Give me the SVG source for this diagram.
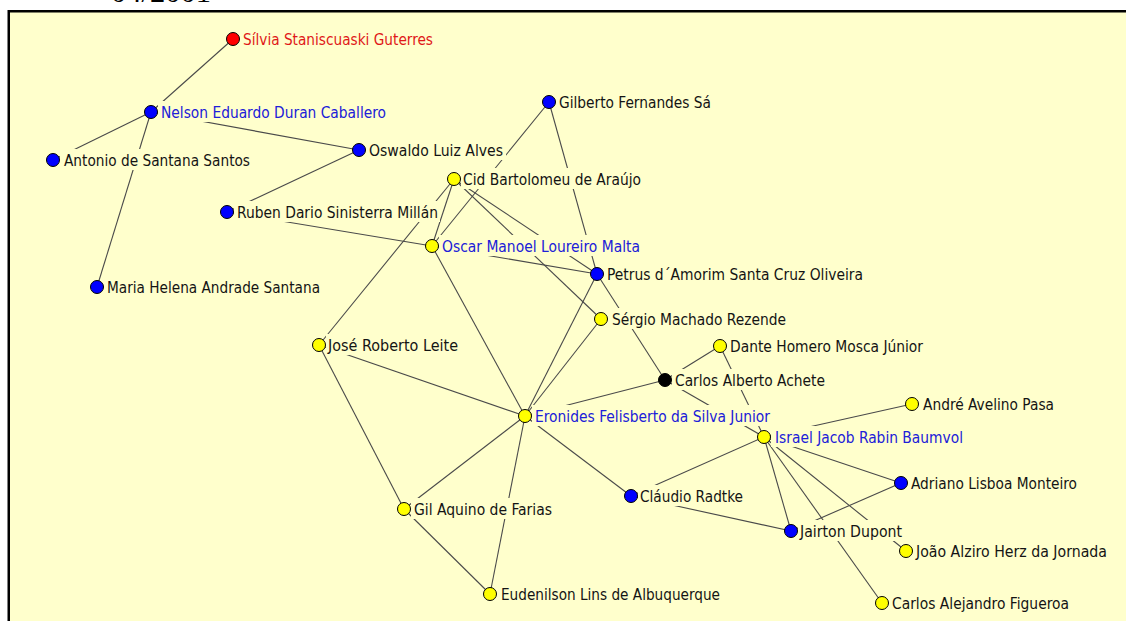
<svg xmlns="http://www.w3.org/2000/svg" width="1126" height="621" viewBox="0 0 1126 621">
<style>
.e{stroke:#4a4a4a;stroke-width:1.1;fill:none}
.bx{fill:#FFFFCC;stroke:none}
.n{stroke:#000;stroke-width:1}
.b{fill:#0000FF}.y{fill:#FFFF00}.r{fill:#FF0000}.k{fill:#000}
.t{font-family:"DejaVu Sans Condensed","DejaVu Sans",sans-serif;font-size:15px;fill:#141414}
.tb{fill:#2020D8}.tr{fill:#E01818}
</style>
<rect x="0" y="0" width="1126" height="621" fill="#fff"/>
<text x="111" y="1.5" font-family="'Liberation Serif',serif" font-size="29" fill="#000" textLength="100" lengthAdjust="spacingAndGlyphs">04/2001</text>
<rect x="8.75" y="11.25" width="1200" height="700" fill="#FFFFCC" stroke="#000" stroke-width="2.5"/>
<g id="connectors">
<line class="e" x1="233" y1="39" x2="151" y2="112"/>
<line class="e" x1="151" y1="112" x2="53" y2="160"/>
<line class="e" x1="151" y1="112" x2="97" y2="287"/>
<line class="e" x1="151" y1="112" x2="359" y2="150"/>
<line class="e" x1="359" y1="150" x2="227" y2="212"/>
<line class="e" x1="227" y1="212" x2="432" y2="246"/>
<line class="e" x1="549" y1="102" x2="432" y2="246"/>
<line class="e" x1="549" y1="102" x2="597" y2="274"/>
<line class="e" x1="454" y1="179" x2="432" y2="246"/>
<line class="e" x1="454" y1="179" x2="319" y2="345"/>
<line class="e" x1="454" y1="179" x2="597" y2="274"/>
<line class="e" x1="454" y1="179" x2="601" y2="319"/>
<line class="e" x1="432" y1="246" x2="597" y2="274"/>
<line class="e" x1="432" y1="246" x2="525" y2="416"/>
<line class="e" x1="597" y1="274" x2="525" y2="416"/>
<line class="e" x1="601" y1="319" x2="525" y2="416"/>
<line class="e" x1="597" y1="274" x2="665" y2="380"/>
<line class="e" x1="665" y1="380" x2="720" y2="346"/>
<line class="e" x1="665" y1="380" x2="525" y2="416"/>
<line class="e" x1="665" y1="380" x2="764" y2="437"/>
<line class="e" x1="720" y1="346" x2="764" y2="437"/>
<line class="e" x1="764" y1="437" x2="912" y2="404"/>
<line class="e" x1="764" y1="437" x2="901" y2="483"/>
<line class="e" x1="764" y1="437" x2="631" y2="496"/>
<line class="e" x1="764" y1="437" x2="791" y2="531"/>
<line class="e" x1="764" y1="437" x2="882" y2="603"/>
<line class="e" x1="764" y1="437" x2="906" y2="551"/>
<line class="e" x1="901" y1="483" x2="791" y2="531"/>
<line class="e" x1="631" y1="496" x2="791" y2="531"/>
<line class="e" x1="525" y1="416" x2="631" y2="496"/>
<line class="e" x1="525" y1="416" x2="319" y2="345"/>
<line class="e" x1="525" y1="416" x2="404" y2="509"/>
<line class="e" x1="525" y1="416" x2="490" y2="594"/>
<line class="e" x1="319" y1="345" x2="404" y2="509"/>
<line class="e" x1="404" y1="509" x2="490" y2="594"/>
</g>
<g id="silvia"><rect class="bx" x="240" y="28" width="196" height="21"/><circle class="n r" cx="233" cy="39" r="6.5"/><text class="t tr" x="243" y="45" textLength="190" lengthAdjust="spacingAndGlyphs">Sílvia Staniscuaski Guterres</text></g>
<g id="nelson"><rect class="bx" x="158" y="101" width="230" height="21"/><circle class="n b" cx="151" cy="112" r="6.5"/><text class="t tb" x="161" y="117.5" textLength="225" lengthAdjust="spacingAndGlyphs">Nelson Eduardo Duran Caballero</text></g>
<g id="antonio"><rect class="bx" x="60" y="149" width="192" height="21"/><circle class="n b" cx="53" cy="160" r="6.5"/><text class="t" x="64" y="165.5" textLength="186" lengthAdjust="spacingAndGlyphs">Antonio de Santana Santos</text></g>
<g id="oswaldo"><rect class="bx" x="366" y="139" width="140" height="21"/><circle class="n b" cx="359" cy="150" r="6.5"/><text class="t" x="369" y="155.5" textLength="134" lengthAdjust="spacingAndGlyphs">Oswaldo Luiz Alves</text></g>
<g id="ruben"><rect class="bx" x="234" y="201" width="206" height="21"/><circle class="n b" cx="227" cy="212" r="6.5"/><text class="t" x="237" y="217.5" textLength="201" lengthAdjust="spacingAndGlyphs">Ruben Dario Sinisterra Millán</text></g>
<g id="maria"><rect class="bx" x="104" y="276" width="218" height="21"/><circle class="n b" cx="97" cy="287" r="6.5"/><text class="t" x="107" y="292.5" textLength="213" lengthAdjust="spacingAndGlyphs">Maria Helena Andrade Santana</text></g>
<g id="gilberto"><rect class="bx" x="556" y="91" width="158" height="21"/><circle class="n b" cx="549" cy="102" r="6.5"/><text class="t" x="559" y="107.5" textLength="152" lengthAdjust="spacingAndGlyphs">Gilberto Fernandes Sá</text></g>
<g id="cid"><rect class="bx" x="461" y="168" width="183" height="21"/><circle class="n y" cx="454" cy="179" r="6.5"/><text class="t" x="463" y="184.5" textLength="178" lengthAdjust="spacingAndGlyphs">Cid Bartolomeu de Araújo</text></g>
<g id="oscar"><rect class="bx" x="439" y="235" width="204" height="21"/><circle class="n y" cx="432" cy="246" r="6.5"/><text class="t tb" x="442" y="251.5" textLength="198" lengthAdjust="spacingAndGlyphs">Oscar Manoel Loureiro Malta</text></g>
<g id="petrus"><rect class="bx" x="604" y="263" width="262" height="21"/><circle class="n b" cx="597" cy="274" r="6.5"/><text class="t" x="607" y="279.5" textLength="256" lengthAdjust="spacingAndGlyphs">Petrus d´Amorim Santa Cruz Oliveira</text></g>
<g id="sergio"><rect class="bx" x="608" y="308" width="181" height="21"/><circle class="n y" cx="601" cy="319" r="6.5"/><text class="t" x="612" y="324.5" textLength="174" lengthAdjust="spacingAndGlyphs">Sérgio Machado Rezende</text></g>
<g id="jose"><rect class="bx" x="326" y="334" width="135" height="21"/><circle class="n y" cx="319" cy="345" r="6.5"/><text class="t" x="328" y="350.5" textLength="130" lengthAdjust="spacingAndGlyphs">José Roberto Leite</text></g>
<g id="dante"><rect class="bx" x="727" y="335" width="199" height="21"/><circle class="n y" cx="720" cy="346" r="6.5"/><text class="t" x="730" y="351.5" textLength="193" lengthAdjust="spacingAndGlyphs">Dante Homero Mosca Júnior</text></g>
<g id="achete"><rect class="bx" x="672" y="369" width="156" height="21"/><circle class="n k" cx="665" cy="380" r="6.5"/><text class="t" x="675" y="385.5" textLength="150" lengthAdjust="spacingAndGlyphs">Carlos Alberto Achete</text></g>
<g id="andre"><rect class="bx" x="919" y="393" width="138" height="21"/><circle class="n y" cx="912" cy="404" r="6.5"/><text class="t" x="923" y="409.5" textLength="131" lengthAdjust="spacingAndGlyphs">André Avelino Pasa</text></g>
<g id="eronides"><rect class="bx" x="532" y="405" width="241" height="21"/><circle class="n y" cx="525" cy="416" r="6.5"/><text class="t tb" x="535" y="421.5" textLength="235" lengthAdjust="spacingAndGlyphs">Eronides Felisberto da Silva Junior</text></g>
<g id="israel"><rect class="bx" x="771" y="426" width="194" height="21"/><circle class="n y" cx="764" cy="437" r="6.5"/><text class="t tb" x="775" y="442.5" textLength="188" lengthAdjust="spacingAndGlyphs">Israel Jacob Rabin Baumvol</text></g>
<g id="adriano"><rect class="bx" x="908" y="472" width="172" height="21"/><circle class="n b" cx="901" cy="483" r="6.5"/><text class="t" x="911" y="488.5" textLength="166" lengthAdjust="spacingAndGlyphs">Adriano Lisboa Monteiro</text></g>
<g id="claudio"><rect class="bx" x="638" y="485" width="108" height="21"/><circle class="n b" cx="631" cy="496" r="6.5"/><text class="t" x="640" y="501.5" textLength="103" lengthAdjust="spacingAndGlyphs">Cláudio Radtke</text></g>
<g id="gil"><rect class="bx" x="411" y="498" width="144" height="21"/><circle class="n y" cx="404" cy="509" r="6.5"/><text class="t" x="414" y="514.5" textLength="138" lengthAdjust="spacingAndGlyphs">Gil Aquino de Farias</text></g>
<g id="jairton"><rect class="bx" x="798" y="520" width="107" height="21"/><circle class="n b" cx="791" cy="531" r="6.5"/><text class="t" x="800" y="536.5" textLength="102" lengthAdjust="spacingAndGlyphs">Jairton Dupont</text></g>
<g id="joao"><rect class="bx" x="913" y="540" width="197" height="21"/><circle class="n y" cx="906" cy="551" r="6.5"/><text class="t" x="916" y="556.5" textLength="191" lengthAdjust="spacingAndGlyphs">João Alziro Herz da Jornada</text></g>
<g id="eudenilson"><rect class="bx" x="497" y="583" width="225" height="21"/><circle class="n y" cx="490" cy="594" r="6.5"/><text class="t" x="501" y="599.5" textLength="219" lengthAdjust="spacingAndGlyphs">Eudenilson Lins de Albuquerque</text></g>
<g id="figueroa"><rect class="bx" x="889" y="592" width="183" height="21"/><circle class="n y" cx="882" cy="603" r="6.5"/><text class="t" x="892" y="608.5" textLength="177" lengthAdjust="spacingAndGlyphs">Carlos Alejandro Figueroa</text></g>
</svg>
